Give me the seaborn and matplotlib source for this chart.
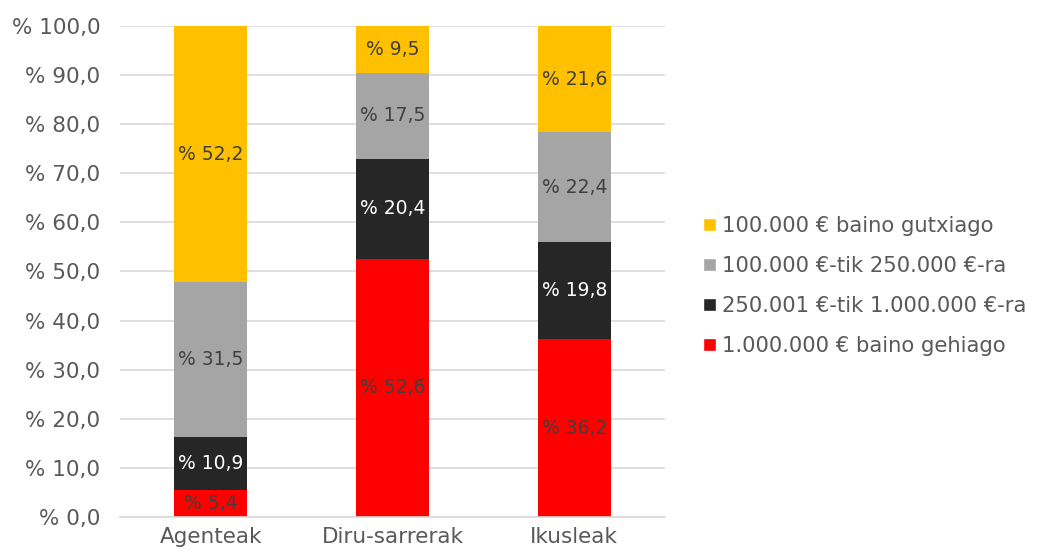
import numpy as np
import pandas as pd
import matplotlib
matplotlib.use("Agg")
import matplotlib.pyplot as plt
import seaborn as sns
from matplotlib.patches import Patch

categories = ["Agenteak", "Diru-sarrerak", "Ikusleak"]
series_names = [
    "1.000.000 € baino gehiago",
    "250.001 €-tik 1.000.000 €-ra",
    "100.000 €-tik 250.000 €-ra",
    "100.000 € baino gutxiago",
]
red_vals = [5.4, 52.6, 36.2]
black_vals = [10.9, 20.4, 19.8]
gray_vals = [31.5, 17.5, 22.4]
yellow_vals = [52.2, 9.5, 21.6]
yticks = [0, 10, 20, 30, 40, 50, 60, 70, 80, 90, 100]

colors = ["#FF0000", "#262626", "#A5A5A5", "#FFC000"]
label_colors = ["#404040", "#FFFFFF", "#404040", "#404040"]
series = [red_vals, black_vals, gray_vals, yellow_vals]

sns.set_theme(style="white")
plt.rcParams["font.family"] = ["DejaVu Sans"]

fig = plt.figure(figsize=(10.41, 5.54), dpi=100)
ax = fig.add_axes([0.115, 0.067, 0.524, 0.886])

# stacked bars: draw cumulative totals from the top segment down
cum = np.cumsum(np.array(series), axis=0)
for i in range(len(series) - 1, -1, -1):
    df = pd.DataFrame({"cat": categories, "val": cum[i]})
    sns.barplot(data=df, x="cat", y="val", color=colors[i], width=0.4,
                saturation=1, linewidth=0, ax=ax, zorder=2)

# segment labels
for i, vals in enumerate(series):
    base = cum[i] - np.array(vals)
    for j, v in enumerate(vals):
        txt = "% " + f"{v:.1f}".replace(".", ",")
        ax.text(j, base[j] + v / 2, txt, ha="center", va="center",
                fontsize=13.5, color=label_colors[i], zorder=3)

ax.set_ylim(0, 100)
ax.set_xlim(-0.5, 2.5)
ax.set_yticks(yticks)
ax.set_yticklabels(["% " + f"{t:.1f}".replace(".", ",") for t in yticks])
ax.yaxis.grid(True, color="#D9D9D9", linewidth=1.2, zorder=0)
ax.set_axisbelow(True)
for s in ["top", "right", "left"]:
    ax.spines[s].set_visible(False)
ax.spines["bottom"].set_color("#D9D9D9")
ax.spines["bottom"].set_linewidth(1.2)
ax.tick_params(axis="both", length=0, labelsize=15.5, labelcolor="#595959")
ax.tick_params(axis="x", pad=7)
ax.tick_params(axis="y", pad=14)
ax.set_xlabel("")
ax.set_ylabel("")

handles = [Patch(facecolor=colors[i], label=series_names[i]) for i in range(3, -1, -1)]
leg = fig.legend(handles=handles, loc="center left", bbox_to_anchor=(0.657, 0.484),
                 frameon=False, fontsize=15.2, handlelength=0.6, handleheight=0.6,
                 handletextpad=0.3, labelspacing=0.95, labelcolor="#595959")

fig.savefig("out.png", dpi=100)
